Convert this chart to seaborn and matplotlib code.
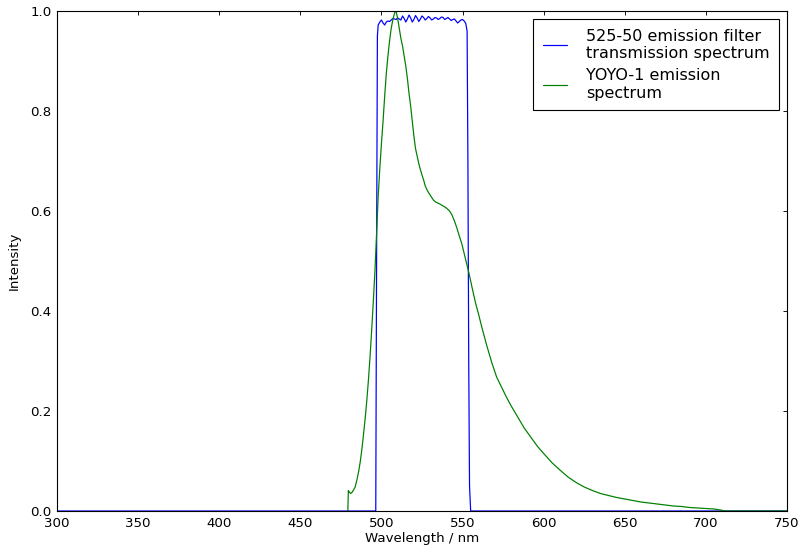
import numpy as np
import pandas as pd
import matplotlib
matplotlib.use("Agg")
import matplotlib.pyplot as plt
import seaborn as sns

# ---- data ----
filter_wl = [300.0, 496.5, 497.0, 497.5, 498.0, 499.0, 500.0, 501.0, 502.0, 503.0,
             504.0, 505.0, 506.0, 507.0, 508.0, 509.0, 510.0, 511.0, 512.0, 513.0,
             514.0, 515.0, 516.0, 517.0, 518.0, 519.0, 520.0, 521.0, 522.0, 523.0,
             524.0, 525.0, 526.0, 527.0, 528.0, 529.0, 530.0, 531.0, 532.0, 533.0,
             534.0, 535.0, 536.0, 537.0, 538.0, 539.0, 540.0, 541.0, 542.0, 543.0,
             544.0, 545.0, 546.0, 547.0, 548.0, 549.0, 550.0, 551.0, 552.0, 552.8,
             553.3, 553.8, 554.3, 555.0, 750.0]
filter_val = [0.0, 0.0, 0.5, 0.95, 0.972, 0.978, 0.982, 0.976, 0.972, 0.978,
              0.98, 0.979, 0.982, 0.985, 0.984, 0.983, 0.986, 0.984, 0.982, 0.99,
              0.985, 0.978, 0.984, 0.992, 0.986, 0.978, 0.983, 0.991, 0.986, 0.979,
              0.984, 0.99, 0.987, 0.982, 0.985, 0.989, 0.986, 0.982, 0.984, 0.987,
              0.986, 0.983, 0.985, 0.988, 0.987, 0.983, 0.985, 0.987, 0.984, 0.981,
              0.983, 0.984, 0.98, 0.976, 0.979, 0.982, 0.983, 0.98, 0.975, 0.96,
              0.7, 0.3, 0.05, 0.0, 0.0]

yoyo_wl = [479.3, 479.6, 480.2, 481.0, 481.8, 482.8, 483.8, 485.0, 486.0, 487.0,
           488.0, 489.0, 490.0, 491.0, 492.0, 493.0, 494.0, 495.0, 496.0, 497.0,
           498.0, 499.0, 500.0, 501.0, 502.0, 503.0, 504.0, 505.0, 506.0, 507.0,
           508.0, 508.6, 509.2, 510.0, 511.0, 512.0, 513.0, 514.0, 515.0, 516.0,
           517.0, 518.0, 519.0, 520.0, 521.0, 522.0, 523.0, 524.0, 525.0, 526.0,
           527.0, 528.0, 529.0, 530.0, 531.0, 532.0, 533.0, 534.0, 536.0, 538.0,
           540.0, 542.0, 543.5, 545.0, 546.5, 548.0, 549.5, 551.0, 552.5, 554.0,
           556.0, 558.0, 560.0, 562.0, 565.0, 568.0, 571.0, 574.0, 577.0, 580.0,
           584.0, 588.0, 592.0, 596.0, 600.0, 605.0, 610.0, 615.0, 620.0, 625.0,
           630.0, 635.0, 640.0, 645.0, 650.0, 655.0, 660.0, 665.0, 670.0, 675.0,
           680.0, 685.0, 690.0, 695.0, 700.0, 705.0, 709.0, 712.0, 750.0]
yoyo_val = [0.0, 0.041, 0.038, 0.035, 0.037, 0.042, 0.048, 0.064, 0.08, 0.1,
            0.125, 0.155, 0.186, 0.222, 0.263, 0.31, 0.363, 0.42, 0.48, 0.555,
            0.63, 0.685, 0.735, 0.78, 0.83, 0.875, 0.91, 0.94, 0.965, 0.982,
            0.995, 1.0, 0.997, 0.985, 0.965, 0.945, 0.93, 0.91, 0.89, 0.865,
            0.835, 0.81, 0.78, 0.75, 0.725, 0.71, 0.695, 0.683, 0.672, 0.662,
            0.65, 0.643, 0.637, 0.632, 0.627, 0.622, 0.619, 0.617, 0.614, 0.61,
            0.606, 0.6, 0.592, 0.58, 0.566, 0.55, 0.535, 0.515, 0.495, 0.475,
            0.445, 0.416, 0.392, 0.366, 0.33, 0.297, 0.268, 0.248, 0.228, 0.21,
            0.188, 0.166, 0.148, 0.13, 0.115, 0.097, 0.082, 0.068, 0.057, 0.048,
            0.041, 0.035, 0.031, 0.027, 0.024, 0.021, 0.018, 0.016, 0.014, 0.012,
            0.010, 0.009, 0.007, 0.006, 0.005, 0.004, 0.002, 0.0, 0.0]

series_labels = ["525-50 emission filter\ntransmission spectrum",
                 "YOYO-1 emission\nspectrum"]
x_ticks = [300, 350, 400, 450, 500, 550, 600, 650, 700, 750]
y_ticks = [0.0, 0.2, 0.4, 0.6, 0.8, 1.0]

# ---- style ----
sns.set_style("white")
plt.rcParams.update({
    "font.family": ["DejaVu Sans"],
    "font.size": 12,
    "xtick.direction": "in",
    "ytick.direction": "in",
    "xtick.top": True,
    "ytick.right": True,
    "xtick.major.size": 4,
    "ytick.major.size": 4,
    "xtick.major.pad": 5,
    "ytick.major.pad": 5,
    "xtick.color": "black",
    "ytick.color": "black",
    "axes.edgecolor": "black",
    "axes.linewidth": 1.0,
    "text.color": "black",
    "axes.labelcolor": "black",
})

df_f = pd.DataFrame({"wl": filter_wl, "val": filter_val})
df_y = pd.DataFrame({"wl": yoyo_wl, "val": yoyo_val})

fig = plt.figure(figsize=(802 / 80, 548 / 80), dpi=80)
ax = fig.add_axes([57 / 802, 37 / 548, 730 / 802, 500 / 548])

sns.lineplot(data=df_f, x="wl", y="val", ax=ax, color="#0000ff", lw=1.1,
             estimator=None, sort=False, label=series_labels[0])
sns.lineplot(data=df_y, x="wl", y="val", ax=ax, color="#008000", lw=1.1,
             estimator=None, sort=False, label=series_labels[1])

ax.set_xlim(300, 750)
ax.set_ylim(0, 1)
ax.set_xticks(x_ticks)
ax.set_yticks(y_ticks)
ax.set_xticklabels([str(t) for t in x_ticks], fontsize=12)
ax.set_yticklabels([f"{t:.1f}" for t in y_ticks], fontsize=12)
ax.set_xlabel("Wavelength / nm", fontsize=12, labelpad=2)
ax.set_ylabel("Intensity", fontsize=12, labelpad=8)
for s in ax.spines.values():
    s.set_visible(True)
    s.set_color("black")

leg = ax.legend(loc="upper right", fontsize=14.4, frameon=True, fancybox=False,
                framealpha=1, edgecolor="black", handlelength=1.5,
                handletextpad=1.2, labelspacing=0.45, borderaxespad=0.5,
                borderpad=0.6)
leg.get_frame().set_linewidth(1.0)

fig.savefig("out.png", dpi=80, facecolor="white")
